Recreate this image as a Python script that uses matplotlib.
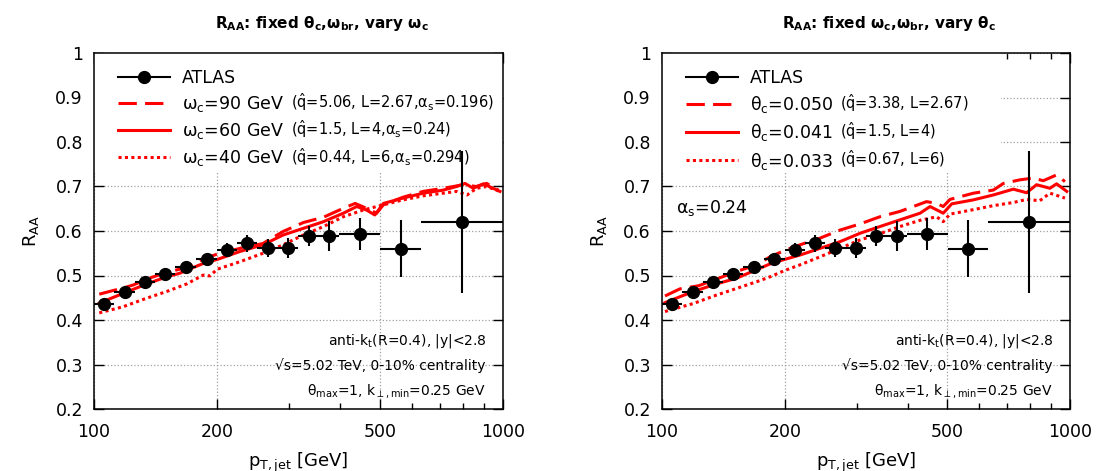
#R_AA comparison with ATLAS, two panels
import matplotlib
matplotlib.use('Agg')
import matplotlib.pyplot as plt
import matplotlib.lines as mlines
import matplotlib.patches as mpatches
import matplotlib.ticker as ticker
import numpy as np

plt.rcParams['mathtext.default'] = 'regular'

#ATLAS 5.02 TeV 0-10% data: bin edges, R_AA and total error
atlas_edges = [100, 112, 126, 141, 158, 178, 200, 224, 251, 282, 316, 355, 398, 501, 631, 1000]
atlas_raa = [0.435, 0.463, 0.485, 0.503, 0.519, 0.537, 0.557, 0.572, 0.561, 0.562, 0.589, 0.589, 0.593, 0.560, 0.620]
atlas_err = [0.012, 0.012, 0.012, 0.013, 0.013, 0.014, 0.015, 0.02, 0.02, 0.022, 0.022, 0.033, 0.036, 0.064, 0.16]

#left panel: vary omega_c
pt_wc90 = [103, 109, 118, 125, 134.5, 150.5, 168.5, 185, 200, 227.5, 259, 290, 325, 364, 407, 435, 464, 491, 510, 570, 638, 715, 800, 860, 912, 974]
raa_wc90 = [0.458, 0.464, 0.472, 0.479, 0.492, 0.507, 0.518, 0.537, 0.548, 0.561, 0.572, 0.599, 0.619, 0.631, 0.651, 0.662, 0.651, 0.640, 0.659, 0.676, 0.689, 0.696, 0.704, 0.700, 0.707, 0.692]
pt_wc60 = [103, 118, 134.5, 150.5, 162, 168.5, 185, 200, 227.5, 259, 290, 325, 364, 407, 439, 464, 486, 510, 570, 638, 715, 770, 807, 846, 895, 983]
raa_wc60 = [0.438, 0.460, 0.481, 0.497, 0.505, 0.512, 0.527, 0.536, 0.554, 0.569, 0.591, 0.606, 0.621, 0.640, 0.655, 0.647, 0.636, 0.662, 0.674, 0.685, 0.692, 0.700, 0.707, 0.696, 0.706, 0.689]
pt_wc40 = [103, 118, 134.5, 150.5, 168.5, 185, 192, 200, 227.5, 259, 290, 325, 364, 407, 455, 491, 570, 638, 715, 770, 817, 862, 912, 983]
raa_wc40 = [0.416, 0.430, 0.449, 0.464, 0.481, 0.501, 0.499, 0.514, 0.531, 0.550, 0.569, 0.591, 0.610, 0.632, 0.647, 0.655, 0.670, 0.679, 0.685, 0.689, 0.681, 0.696, 0.700, 0.689]

#right panel: vary theta_c
pt_tc050 = [101.7, 110.7, 123, 136, 152.4, 170.6, 184, 199.5, 218, 244, 273, 306, 342, 383, 413, 445, 471, 489, 508, 580, 649, 687, 754, 813, 860, 927, 972]
raa_tc050 = [0.454, 0.470, 0.477, 0.492, 0.509, 0.524, 0.542, 0.556, 0.569, 0.584, 0.602, 0.616, 0.632, 0.644, 0.655, 0.666, 0.662, 0.655, 0.671, 0.685, 0.692, 0.707, 0.715, 0.719, 0.713, 0.726, 0.711]
pt_tc041 = [101.7, 119.3, 136, 152.4, 164.4, 184, 199.5, 218, 244, 273, 306, 342, 383, 429, 454, 489, 513, 580, 649, 726, 783, 828, 893, 927, 982]
raa_tc041 = [0.439, 0.464, 0.481, 0.494, 0.507, 0.526, 0.536, 0.546, 0.561, 0.576, 0.595, 0.610, 0.625, 0.640, 0.655, 0.640, 0.661, 0.670, 0.681, 0.694, 0.686, 0.704, 0.696, 0.706, 0.689]
pt_tc033 = [101.7, 119.3, 136, 152.4, 170.6, 184, 199.5, 218, 244, 273, 306, 342, 383, 429, 471, 489, 508, 580, 649, 726, 783, 843, 893, 972]
raa_tc033 = [0.419, 0.437, 0.456, 0.471, 0.486, 0.497, 0.511, 0.524, 0.542, 0.561, 0.580, 0.594, 0.610, 0.624, 0.632, 0.621, 0.638, 0.648, 0.657, 0.664, 0.671, 0.668, 0.685, 0.674]

labels_left = [r'$\omega_c$=90 GeV', r'$\omega_c$=60 GeV', r'$\omega_c$=40 GeV']
extras_left = [r'($\hat{q}$=5.06, L=2.67,$\alpha_s$=0.196)', r'($\hat{q}$=1.5, L=4,$\alpha_s$=0.24)', r'($\hat{q}$=0.44, L=6,$\alpha_s$=0.294)']
labels_right = [r'$\theta_c$=0.050', r'$\theta_c$=0.041', r'$\theta_c$=0.033']
extras_right = [r'($\hat{q}$=3.38, L=2.67)', r'($\hat{q}$=1.5, L=4)', r'($\hat{q}$=0.67, L=6)']

info_lines = [r'anti-$k_t$(R=0.4), |y|<2.8', '√s=5.02 TeV, 0-10% centrality', r'$\theta_{max}$=1, $k_{\perp,min}$=0.25 GeV']

styles = [(0, (6, 2.7)), '-', (0, (1, 1.1))]
red = '#ff0000'

def draw_panel(ax, curves, labels, title, cover_w):
	edges = np.array(atlas_edges, dtype=float)
	centers = np.sqrt(edges[:-1]*edges[1:])
	xerr = [centers-edges[:-1], edges[1:]-centers]
	#white box behind legend hides the grid there
	ax.add_patch(mpatches.Rectangle((0, 0.665), cover_w, 0.335, transform=ax.transAxes,
		facecolor='white', edgecolor='none', zorder=1.8))
	for (px, py), ls in zip(curves, styles):
		ax.plot(px, py, color=red, linestyle=ls, linewidth=2.2, dash_capstyle='butt', zorder=3)
	ax.errorbar(centers, atlas_raa, xerr=xerr, yerr=atlas_err, fmt='o', color='k', ms=8.5,
		elinewidth=1.5, capsize=0, zorder=6)
	ax.set_xscale('log')
	ax.set_xlim(100, 1000)
	ax.set_ylim(0.2, 1.0)
	ax.xaxis.set_major_locator(ticker.FixedLocator([100, 200, 500, 1000]))
	ax.xaxis.set_major_formatter(ticker.FixedFormatter(['100', '200', '500', '1000']))
	ax.xaxis.set_minor_locator(ticker.FixedLocator([300, 400, 600, 700, 800, 900]))
	ax.xaxis.set_minor_formatter(ticker.NullFormatter())
	ax.yaxis.set_major_locator(ticker.MultipleLocator(0.1))
	ax.yaxis.set_major_formatter(ticker.FormatStrFormatter('%g'))
	ax.tick_params(which='both', direction='in', top=True, right=True, labelsize=12.5, width=1)
	ax.tick_params(which='major', length=7)
	ax.tick_params(which='minor', length=4)
	ax.tick_params(axis='y', pad=8)
	ax.tick_params(axis='x', pad=10)
	for sp in ax.spines.values():
		sp.set_linewidth(1.1)
	ax.grid(True, which='major', linestyle=':', color='#a0a0a0', linewidth=0.9)
	ax.set_ylabel(r'R$_{AA}$', fontsize=13)
	ax.yaxis.set_label_coords(-0.13, 0.5)
	ax.set_xlabel(r'p$_{T,jet}$ [GeV]', fontsize=13)
	ax.xaxis.set_label_coords(0.5, -0.118)
	ax.set_title(title, fontsize=11, fontweight='bold', pad=18, x=0.557)
	handles = [mlines.Line2D([], [], color='k', marker='o', ms=8.5, lw=1.5)]
	for ls in styles:
		handles.append(mlines.Line2D([], [], color=red, linestyle=ls, lw=2.2, dash_capstyle='butt'))
	leg = ax.legend(handles, ['ATLAS']+labels, loc='upper left', bbox_to_anchor=(0.02, 1.0),
		frameon=False, fontsize=12.5, handlelength=3.0, handletextpad=0.7, labelspacing=0.42,
		borderaxespad=0.5)
	for i, line in enumerate(info_lines):
		ax.text(0.958, 0.191-i*0.07, line, transform=ax.transAxes, ha='right', va='center', fontsize=10)
	return leg

#small parameter text goes right after each legend label, needs a draw first to know where
def add_extras(fig, ax, leg, extras):
	fig.canvas.draw()
	inv = ax.transAxes.inverted()
	for txt, extra in zip(leg.get_texts()[1:], extras):
		bb = txt.get_window_extent()
		x, y = inv.transform((bb.x1+7, bb.y0+1))
		ax.text(x, y, extra, transform=ax.transAxes, ha='left', va='bottom', fontsize=10.5)

fig = plt.figure(figsize=(10.96, 4.71), dpi=100)
ax1 = fig.add_axes([94/1096, 62/471, 409/1096, 356/471])
ax2 = fig.add_axes([662/1096, 62/471, 408/1096, 356/471])

leg1 = draw_panel(ax1, [(pt_wc90, raa_wc90), (pt_wc60, raa_wc60), (pt_wc40, raa_wc40)], labels_left,
	r'$\mathbf{R_{AA}}$: fixed $\mathbf{\theta_c}$,$\mathbf{\omega_{br}}$, vary $\mathbf{\omega_c}$', 1.0)
leg2 = draw_panel(ax2, [(pt_tc050, raa_tc050), (pt_tc041, raa_tc041), (pt_tc033, raa_tc033)], labels_right,
	r'$\mathbf{R_{AA}}$: fixed $\mathbf{\omega_c}$,$\mathbf{\omega_{br}}$, vary $\mathbf{\theta_c}$', 0.83)
ax2.text(0.035, 0.565, r'$\alpha_s$=0.24', transform=ax2.transAxes, ha='left', va='center', fontsize=12.5)

add_extras(fig, ax1, leg1, extras_left)
add_extras(fig, ax2, leg2, extras_right)

plt.savefig('out.png', dpi=100)
